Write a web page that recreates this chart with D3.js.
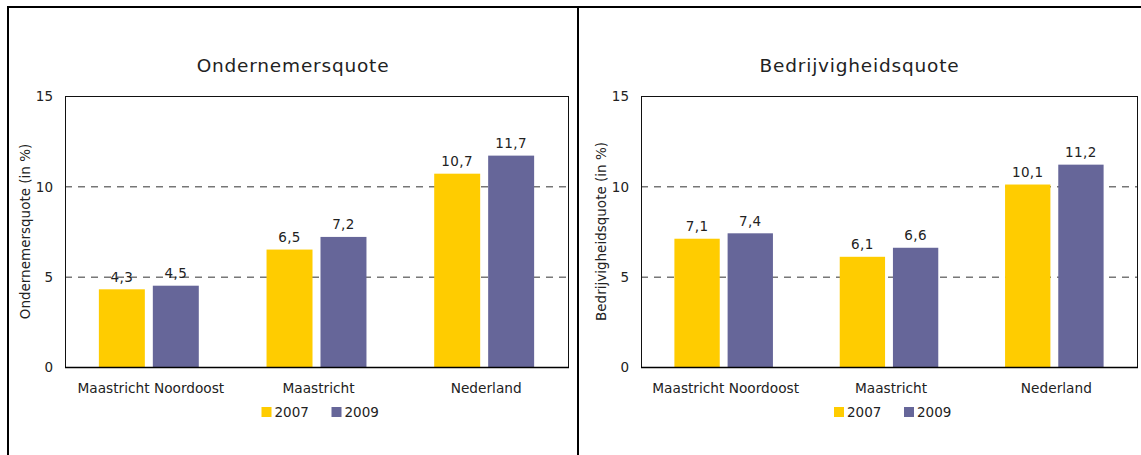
<!DOCTYPE html>
<html>
<head>
<meta charset="utf-8">
<script src="https://cdn.jsdelivr.net/npm/d3@7"></script>
<style>
  html, body { margin: 0; padding: 0; background: #fff; }
  svg { display: block; }
  text { font-family: "DejaVu Sans", Verdana, sans-serif; fill: #222; }
</style>
</head>
<body>
<svg id="chart" width="1141" height="455"></svg>
<script>
// ---- Data ----
const categories = ["Maastricht Noordoost", "Maastricht", "Nederland"];
const seriesNames = ["2007", "2009"];
const seriesColors = ["#FFCC00", "#666699"];
const yTicks = [0, 5, 10, 15];
const gridValues = [5, 10];

const ondernemers2007 = [4.3, 6.5, 10.7];
const ondernemers2009 = [4.5, 7.2, 11.7];
const bedrijvigheid2007 = [7.1, 6.1, 10.1];
const bedrijvigheid2009 = [7.4, 6.6, 11.2];

const panels = [
  { title: "Ondernemersquote", yTitle: "Ondernemersquote (in %)",
    series: [ondernemers2007, ondernemers2009],
    panelX: [8, 578], plotX: [65, 568] },
  { title: "Bedrijvigheidsquote", yTitle: "Bedrijvigheidsquote (in %)",
    series: [bedrijvigheid2007, bedrijvigheid2009],
    panelX: [578, 1141], plotX: [641, 1137] }
];

const svg = d3.select("#chart");
const plotTop = 96, plotBottom = 367;
const fmt = v => d3.format(".1f")(v).replace(".", ",");

panels.forEach(p => {
  const g = svg.append("g");
  const y = d3.scaleLinear().domain([0, 15]).range([plotBottom, plotTop]);
  const x0 = d3.scaleBand().domain(categories).range(p.plotX)
    .paddingInner(0.404).paddingOuter(0.202);
  const x1 = d3.scaleBand().domain(seriesNames).range([0, x0.bandwidth()])
    .paddingInner(0.148);

  // title
  g.append("text")
    .attr("x", (p.panelX[0] + p.panelX[1]) / 2)
    .attr("y", 72)
    .attr("text-anchor", "middle")
    .style("font-size", "18.5px")
    .style("letter-spacing", "0.8px")
    .text(p.title);

  // gridlines
  g.selectAll(".grid").data(gridValues).enter().append("line")
    .attr("x1", p.plotX[0]).attr("x2", p.plotX[1])
    .attr("y1", d => y(d) + 0.5).attr("y2", d => y(d) + 0.5)
    .attr("stroke", "#333").attr("stroke-width", 1)
    .attr("stroke-dasharray", "7,6");

  // bars
  const groups = g.selectAll(".grp").data(categories).enter().append("g")
    .attr("transform", d => `translate(${x0(d)},0)`);
  groups.selectAll("rect").data((d, i) => seriesNames.map((s, j) => ({ s, v: p.series[j][i], j })))
    .enter().append("rect")
    .attr("x", d => x1(d.s))
    .attr("width", x1.bandwidth())
    .attr("y", d => y(d.v))
    .attr("height", d => y(0) - y(d.v))
    .attr("fill", d => seriesColors[d.j]);

  // value labels
  groups.selectAll(".lbl").data((d, i) => seriesNames.map((s, j) => ({ s, v: p.series[j][i], j })))
    .enter().append("text")
    .attr("x", d => x1(d.s) + x1.bandwidth() / 2)
    .attr("y", d => y(d.v) - 7.5)
    .attr("text-anchor", "middle")
    .style("font-size", "13.5px")
    .style("letter-spacing", "0.4px")
    .text(d => fmt(d.v));

  // plot frame
  g.append("rect")
    .attr("x", p.plotX[0] + 0.5).attr("y", plotTop + 0.5)
    .attr("width", p.plotX[1] - p.plotX[0]).attr("height", plotBottom - plotTop)
    .attr("fill", "none").attr("stroke", "#111").attr("stroke-width", 1);
  g.append("line")
    .attr("x1", p.plotX[0]).attr("x2", p.plotX[1] + 1)
    .attr("y1", plotBottom + 0.5).attr("y2", plotBottom + 0.5)
    .attr("stroke", "#000").attr("stroke-width", 1.6);

  // y axis labels
  const yAxis = d3.axisLeft(y).tickValues(yTicks).tickSize(0).tickPadding(12);
  const ya = g.append("g").attr("transform", `translate(${p.plotX[0]},0.5)`).call(yAxis);
  ya.select(".domain").remove();
  ya.selectAll("text").style("font-size", "13.5px").attr("fill", "#222")
    .style("font-family", "'DejaVu Sans', Verdana, sans-serif");

  // x axis labels
  const xAxis = d3.axisBottom(x0).tickSize(0).tickPadding(0);
  const xa = g.append("g").attr("transform", `translate(2,${plotBottom})`).call(xAxis);
  xa.select(".domain").remove();
  xa.selectAll("text").attr("dy", null).attr("y", 26).style("font-size", "13.7px").attr("fill", "#222")
    .style("font-family", "'DejaVu Sans', Verdana, sans-serif");

  // y title
  const cy = (plotTop + plotBottom) / 2;
  const tx = p.plotX[0] - 40;
  g.append("text")
    .attr("transform", `translate(${tx},${cy}) rotate(-90)`)
    .attr("text-anchor", "middle")
    .attr("dy", "0.35em")
    .style("font-size", "13.5px")
    .text(p.yTitle);

  // legend
  const cx = (p.plotX[0] + p.plotX[1]) / 2 + 3;
  const legend = g.append("g").attr("transform", `translate(${cx - 58},407)`);
  const items = legend.selectAll("g").data(seriesNames).enter().append("g")
    .attr("transform", (d, i) => `translate(${i * 70},0)`);
  items.append("rect").attr("width", 10).attr("height", 10)
    .attr("fill", (d, i) => seriesColors[i]);
  items.append("text").attr("x", 13).attr("y", 10)
    .style("font-size", "13.5px").text(d => d);
});

// outer frame
svg.append("line").attr("x1", 7).attr("x2", 1141).attr("y1", 7).attr("y2", 7)
  .attr("stroke", "#000").attr("stroke-width", 2);
svg.append("line").attr("x1", 8).attr("x2", 8).attr("y1", 6).attr("y2", 455)
  .attr("stroke", "#000").attr("stroke-width", 2);
svg.append("line").attr("x1", 578).attr("x2", 578).attr("y1", 6).attr("y2", 455)
  .attr("stroke", "#000").attr("stroke-width", 2);
</script>
</body>
</html>
